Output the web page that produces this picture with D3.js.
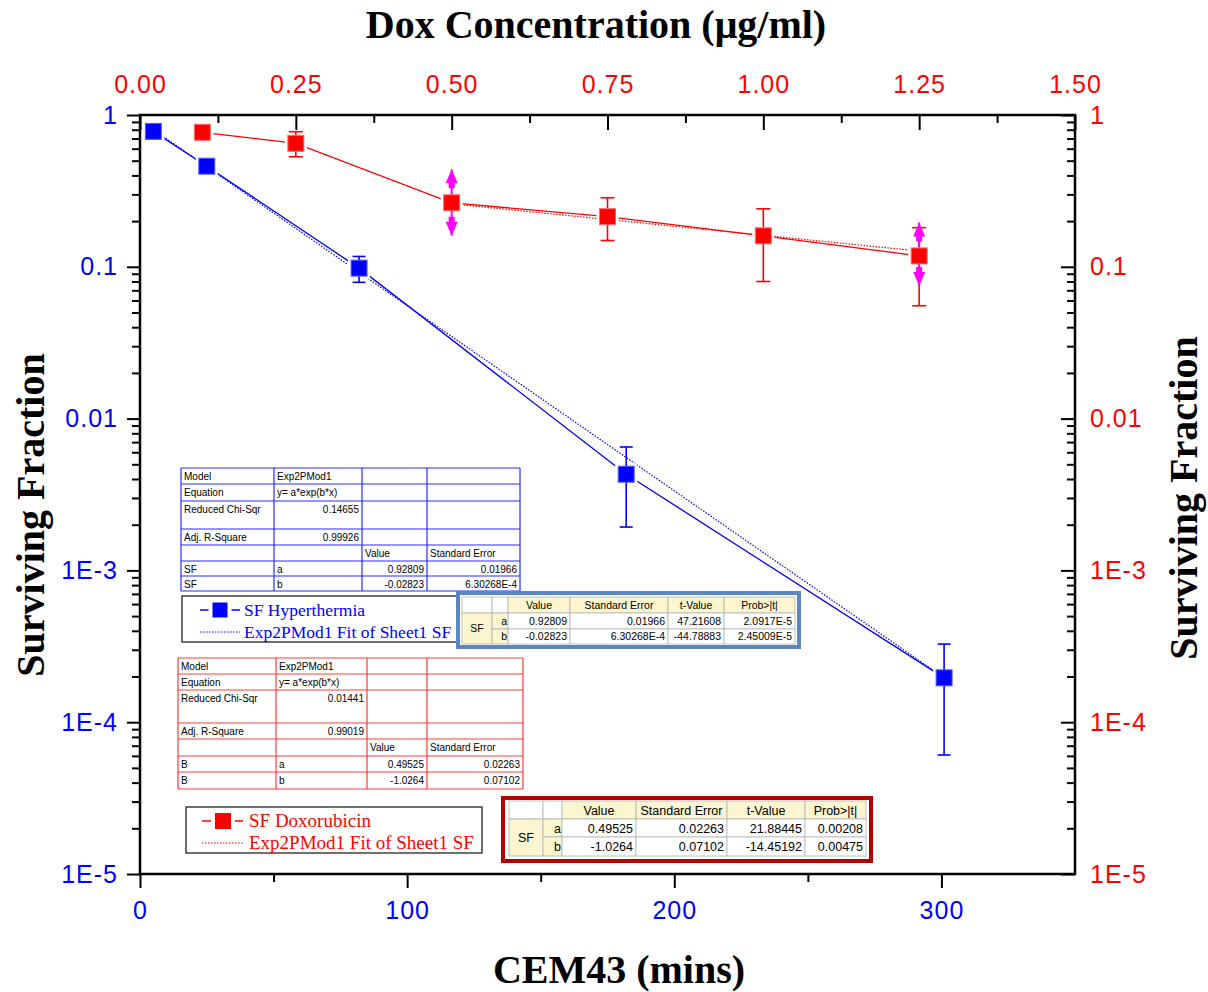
<!DOCTYPE html>
<html>
<head>
<meta charset="utf-8">
<script src="https://cdn.jsdelivr.net/npm/d3@7"></script>
<style>
  body { margin: 0; background: #fff; }
  svg { display: block; }
</style>
</head>
<body>
<svg id="chart" width="1208" height="992"></svg>
<script>
// ---- Hyperthermia series (bottom axis: CEM43 minutes) ----
const hyperMins = [5, 25, 82, 182, 301];
const hyperSF   = [0.78, 0.46, 0.098, 0.0043, 0.000196];
const hyperLo   = [null, null, 0.079, 0.00193, 0.0000608];
const hyperHi   = [null, null, 0.117, 0.0065, 0.000327];
const hyperFitMins = [5, 301];
const hyperFitSF   = [0.80, 0.000196];

// ---- Doxorubicin series (top axis: µg/ml) ----
const doxConc = [0.1, 0.25, 0.5, 0.75, 1.0, 1.25];
const doxSF   = [0.769, 0.651, 0.264, 0.214, 0.160, 0.118];
const doxLo   = [null, 0.531, null, 0.149, 0.080, 0.0554];
const doxHi   = [null, 0.776, null, 0.285, 0.241, 0.181];
const doxFitConc = [0.5, 1.25];
const doxFitSF   = [0.26, 0.127];
// ranges drawn with arrowheads
const doxArrowConc = [0.5, 1.25];
const doxArrowLo   = [0.16, 0.0747];
const doxArrowHi   = [0.439, 0.196];

// ---- Axis ticks ----
const minsTicks  = [0, 100, 200, 300];
const minsMinor  = [50, 150, 250];
const concTicks  = [0, 0.25, 0.5, 0.75, 1.0, 1.25, 1.5];
const concMinor  = [0.125, 0.375, 0.625, 0.875, 1.125, 1.375];
const sfTicks      = [1e-5, 1e-4, 1e-3, 1e-2, 1e-1, 1];
const sfTickLabels = ["1E-5", "1E-4", "1E-3", "0.01", "0.1", "1"];

// ---- Fit report tables ----
const hyperStatsRows = [
  ["Model", "Exp2PMod1", "", ""],
  ["Equation", "y= a*exp(b*x)", "", ""],
  ["Reduced Chi-Sqr", "0.14655", "", ""],
  ["Adj. R-Square", "0.99926", "", ""],
  ["", "", "Value", "Standard Error"],
  ["SF", "a", "0.92809", "0.01966"],
  ["SF", "b", "-0.02823", "6.30268E-4"]
];
const doxStatsRows = [
  ["Model", "Exp2PMod1", "", ""],
  ["Equation", "y= a*exp(b*x)", "", ""],
  ["Reduced Chi-Sqr", "0.01441", "", ""],
  ["Adj. R-Square", "0.99019", "", ""],
  ["", "", "Value", "Standard Error"],
  ["B", "a", "0.49525", "0.02263"],
  ["B", "b", "-1.0264", "0.07102"]
];
const paramHeader = ["Value", "Standard Error", "t-Value", "Prob>|t|"];
const hyperParams = [
  ["a", "0.92809", "0.01966", "47.21608", "2.0917E-5"],
  ["b", "-0.02823", "6.30268E-4", "-44.78883", "2.45009E-5"]
];
const doxParams = [
  ["a", "0.49525", "0.02263", "21.88445", "0.00208"],
  ["b", "-1.0264", "0.07102", "-14.45192", "0.00475"]
];

const BLUE = "#0000ff", RED = "#ff0000", MAGENTA = "#ff00ff";
const SANS = "'Liberation Sans', Arial, sans-serif";
const SERIF = "'Liberation Serif', 'Times New Roman', serif";

const svg = d3.select("#chart");
const frame = { left: 140, right: 1075, top: 115, bottom: 874 };

const xMins = d3.scaleLinear().domain([0, 350]).range([frame.left, frame.right]);
const xConc = d3.scaleLinear().domain([0, 1.5]).range([frame.left, frame.right]);
const ySF = d3.scaleLog().domain([1e-5, 1]).range([frame.bottom, frame.top]);
const sfMinor = ySF.ticks().filter(d => Math.abs(Math.log10(d) - Math.round(Math.log10(d))) > 1e-6);

// ---- Axes ----
function styleAxis(g, color) {
  g.select(".domain").remove();
  g.selectAll(".tick line").attr("stroke", "#000").attr("stroke-width", 2);
  g.selectAll(".tick text")
    .attr("fill", color)
    .style("font-family", SANS)
    .style("font-size", "25px")
    .style("letter-spacing", "1px");
}

svg.append("g").attr("transform", `translate(${frame.left},0)`)
  .call(d3.axisLeft(ySF).tickValues(sfMinor).tickFormat("").tickSize(8))
  .call(g => styleAxis(g, BLUE));
svg.append("g").attr("transform", `translate(${frame.left},0)`)
  .call(d3.axisLeft(ySF).tickValues(sfTicks).tickFormat((d, i) => sfTickLabels[i]).tickSize(13).tickPadding(9))
  .call(g => styleAxis(g, BLUE));

svg.append("g").attr("transform", `translate(${frame.right},0)`)
  .call(d3.axisRight(ySF).tickValues(sfMinor).tickFormat("").tickSize(-8))
  .call(g => styleAxis(g, RED));
svg.append("g").attr("transform", `translate(${frame.right},0)`)
  .call(d3.axisRight(ySF).tickValues(sfTicks).tickFormat((d, i) => sfTickLabels[i]).tickSize(-14).tickPadding(15))
  .call(g => styleAxis(g, RED));

svg.append("g").attr("transform", `translate(0,${frame.bottom})`)
  .call(d3.axisBottom(xMins).tickValues(minsMinor).tickFormat("").tickSize(8))
  .call(g => styleAxis(g, BLUE));
svg.append("g").attr("transform", `translate(0,${frame.bottom})`)
  .call(d3.axisBottom(xMins).tickValues(minsTicks).tickFormat(d3.format("d")).tickSize(14).tickPadding(13))
  .call(g => styleAxis(g, BLUE));

svg.append("g").attr("transform", `translate(0,${frame.top})`)
  .call(d3.axisTop(xConc).tickValues(concMinor).tickFormat("").tickSize(-8))
  .call(g => styleAxis(g, RED));
svg.append("g").attr("transform", `translate(0,${frame.top})`)
  .call(d3.axisTop(xConc).tickValues(concTicks).tickFormat(d3.format(".2f")).tickSize(-15).tickPadding(22))
  .call(g => styleAxis(g, RED));

svg.append("rect")
  .attr("x", frame.left).attr("y", frame.top)
  .attr("width", frame.right - frame.left).attr("height", frame.bottom - frame.top)
  .attr("fill", "none").attr("stroke", "#000").attr("stroke-width", 2.5);

// ---- Axis titles ----
const titleStyle = t => t.attr("font-family", SERIF).attr("font-weight", "bold")
  .attr("font-size", 40).attr("fill", "#000").attr("text-anchor", "middle");
svg.append("text").attr("x", 596).attr("y", 38).text("Dox Concentration (μg/ml)").call(titleStyle);
svg.append("text").attr("x", 619).attr("y", 983).text("CEM43 (mins)").call(titleStyle);
svg.append("text").attr("transform", "translate(44,515) rotate(-90)").text("Surviving Fraction").call(titleStyle);
svg.append("text").attr("transform", "translate(1197,498) rotate(-90)").text("Surviving Fraction").call(titleStyle);

// ---- Series ----
const hyperPts = hyperMins.map((m, i) => ({ x: xMins(m), y: ySF(hyperSF[i]), lo: hyperLo[i], hi: hyperHi[i] }));
const doxPts = doxConc.map((c, i) => ({ x: xConc(c), y: ySF(doxSF[i]), lo: doxLo[i], hi: doxHi[i] }));
const hyperFit = hyperFitMins.map((m, i) => [xMins(m), ySF(hyperFitSF[i])]);
const doxFit = doxFitConc.map((c, i) => [xConc(c), ySF(doxFitSF[i])]);

const line = d3.line();
const plotG = svg.append("g");

// fitted curves (dotted)
plotG.append("path").attr("d", line(hyperFit)).attr("fill", "none")
  .attr("stroke", BLUE).attr("stroke-width", 1.2).attr("stroke-dasharray", "1.5,1.5");
plotG.append("path").attr("d", line(doxFit)).attr("fill", "none")
  .attr("stroke", RED).attr("stroke-width", 1.2).attr("stroke-dasharray", "1.5,1.5");

// connecting lines
plotG.append("path").attr("d", line(hyperPts.map(p => [p.x, p.y]))).attr("fill", "none")
  .attr("stroke", BLUE).attr("stroke-width", 1.3);
plotG.append("path").attr("d", line(doxPts.map(p => [p.x, p.y]))).attr("fill", "none")
  .attr("stroke", RED).attr("stroke-width", 1.3);

// white gap around each symbol
const SYM = 16, GAP = 22;
plotG.selectAll("rect.halo").data(hyperPts.concat(doxPts)).join("rect")
  .attr("class", "halo")
  .attr("x", d => d.x - GAP / 2).attr("y", d => d.y - GAP / 2)
  .attr("width", GAP).attr("height", GAP).attr("fill", "#fff");

// error bars
function errorBars(pts, color, capW) {
  const g = plotG.append("g").attr("stroke", color).attr("stroke-width", 1.6);
  pts.filter(p => p.lo != null).forEach(p => {
    const yl = ySF(p.lo), yh = ySF(p.hi);
    g.append("line").attr("x1", p.x).attr("x2", p.x).attr("y1", yh).attr("y2", yl);
    g.append("line").attr("x1", p.x - capW / 2).attr("x2", p.x + capW / 2).attr("y1", yh).attr("y2", yh);
    g.append("line").attr("x1", p.x - capW / 2).attr("x2", p.x + capW / 2).attr("y1", yl).attr("y2", yl);
  });
}
errorBars(hyperPts, BLUE, 13);
errorBars(doxPts, RED, 14);

// arrowed ranges
const arrowG = plotG.append("g");
doxArrowConc.forEach((c, i) => {
  const x = xConc(c), yTop = ySF(doxArrowHi[i]), yBot = ySF(doxArrowLo[i]);
  arrowG.append("line").attr("x1", x).attr("x2", x).attr("y1", yTop).attr("y2", yBot)
    .attr("stroke", MAGENTA).attr("stroke-width", 2);
  // upward head
  arrowG.append("path").attr("fill", MAGENTA)
    .attr("d", `M${x},${yTop} L${x + 6},${yTop + 14} L${x + 3},${yTop + 14} L${x + 3},${yTop + 19} L${x - 3},${yTop + 19} L${x - 3},${yTop + 14} L${x - 6},${yTop + 14} Z`);
  // downward head
  arrowG.append("path").attr("fill", MAGENTA)
    .attr("d", `M${x},${yBot} L${x + 6},${yBot - 14} L${x + 3},${yBot - 14} L${x + 3},${yBot - 19} L${x - 3},${yBot - 19} L${x - 3},${yBot - 14} L${x - 6},${yBot - 14} Z`);
});

// symbols
function symbols(pts, fill, edge) {
  plotG.append("g").selectAll("rect").data(pts).join("rect")
    .attr("x", d => d.x - SYM / 2).attr("y", d => d.y - SYM / 2)
    .attr("width", SYM).attr("height", SYM)
    .attr("fill", fill).attr("stroke", edge).attr("stroke-width", 1);
}
symbols(hyperPts, BLUE, "#5a5aff");
symbols(doxPts, RED, "#ff6a6a");

// ---- Fit statistics tables ----
const isNum = s => s !== "" && !isNaN(+s);

function statsTable(rows, cols, rowsY, lineColor) {
  const g = svg.append("g");
  g.append("rect").attr("x", cols[0]).attr("y", rowsY[0])
    .attr("width", cols[cols.length - 1] - cols[0]).attr("height", rowsY[rowsY.length - 1] - rowsY[0])
    .attr("fill", "#fff");
  rows.forEach((r, ri) => {
    r.forEach((s, ci) => {
      if (!s) return;
      const right = isNum(s);
      g.append("text")
        .attr("x", right ? cols[ci + 1] - 3 : cols[ci] + 3)
        .attr("y", rowsY[ri] + 11.5)
        .attr("text-anchor", right ? "end" : "start")
        .attr("font-family", SANS).attr("font-size", 10).attr("fill", "#000")
        .text(s);
    });
  });
  cols.forEach(x => g.append("line").attr("x1", x).attr("x2", x)
    .attr("y1", rowsY[0]).attr("y2", rowsY[rowsY.length - 1])
    .attr("stroke", lineColor).attr("stroke-width", 1.2));
  rowsY.forEach(y => g.append("line").attr("x1", cols[0]).attr("x2", cols[cols.length - 1])
    .attr("y1", y).attr("y2", y).attr("stroke", lineColor).attr("stroke-width", 1.2));
}
statsTable(hyperStatsRows, [181, 274, 362, 427, 520], [468, 484, 501, 529, 545, 561, 576, 591], "#2a2aff");
statsTable(doxStatsRows, [178, 276, 367, 427, 523], [658, 674, 690, 723, 739, 756, 772, 789], "#ff3a3a");

// ---- Legends ----
function legend(box, rowY, x1, x2, sx, textX, color, fontSize, labels, sym) {
  const g = svg.append("g");
  g.append("rect").attr("x", box[0]).attr("y", box[1]).attr("width", box[2] - box[0]).attr("height", box[3] - box[1])
    .attr("fill", "#fff").attr("stroke", "#222").attr("stroke-width", 1.3);
  g.append("line").attr("x1", x1).attr("x2", x2).attr("y1", rowY[0]).attr("y2", rowY[0])
    .attr("stroke", color).attr("stroke-width", 1.5);
  g.append("rect").attr("x", sx - sym / 2 - 4).attr("y", rowY[0] - sym / 2 - 2).attr("width", sym + 8).attr("height", sym + 4).attr("fill", "#fff");
  g.append("rect").attr("x", sx - sym / 2).attr("y", rowY[0] - sym / 2).attr("width", sym).attr("height", sym).attr("fill", color);
  g.append("line").attr("x1", x1).attr("x2", x2).attr("y1", rowY[1]).attr("y2", rowY[1])
    .attr("stroke", color).attr("stroke-width", 1).attr("stroke-dasharray", "1.5,1.5");
  labels.forEach((t, i) => g.append("text").attr("x", textX).attr("y", rowY[i] + fontSize * 0.33)
    .attr("font-family", SERIF).attr("font-size", fontSize).attr("fill", color).text(t));
}
legend([182, 596, 457, 642], [610, 632], 200, 240, 220, 244, BLUE, 17.5,
  ["SF Hyperthermia", "Exp2PMod1 Fit of Sheet1 SF"], 15);
legend([186, 807, 482, 853], [821, 843], 202, 243, 223, 249, RED, 19,
  ["SF Doxorubicin", "Exp2PMod1 Fit of Sheet1 SF"], 16);

// ---- Parameter tables ----
function paramTable(outer, cols, rowsY, frameColor, frameWidth, fontSize, params) {
  const g = svg.append("g");
  const CREAM = "#fbf6cf", GRID = "#b4b4b4";
  g.append("rect").attr("x", outer[0]).attr("y", outer[1]).attr("width", outer[2] - outer[0]).attr("height", outer[3] - outer[1])
    .attr("fill", "#fff").attr("stroke", frameColor).attr("stroke-width", frameWidth);
  const cell = (c0, c1, r0, r1, fill) => g.append("rect")
    .attr("x", cols[c0]).attr("y", rowsY[r0]).attr("width", cols[c1] - cols[c0]).attr("height", rowsY[r1] - rowsY[r0])
    .attr("fill", fill).attr("stroke", GRID).attr("stroke-width", 0.8);
  cell(0, 1, 0, 1, "#fff"); cell(1, 2, 0, 1, "#fff");
  for (let c = 2; c < cols.length - 1; c++) cell(c, c + 1, 0, 1, CREAM);
  cell(0, 1, 1, 3, CREAM);
  for (let r = 1; r < 3; r++) {
    cell(1, 2, r, r + 1, CREAM);
    for (let c = 2; c < cols.length - 1; c++) cell(c, c + 1, r, r + 1, "#fff");
  }
  const txt = (x, y, anchor, s) => g.append("text").attr("x", x).attr("y", y).attr("text-anchor", anchor)
    .attr("font-family", SANS).attr("font-size", fontSize).attr("fill", "#000").text(s);
  const base = r => (rowsY[r] + rowsY[r + 1]) / 2 + fontSize * 0.36;
  paramHeader.forEach((h, i) => txt((cols[i + 2] + cols[i + 3]) / 2, base(0), "middle", h));
  txt((cols[0] + cols[1]) / 2, (rowsY[1] + rowsY[3]) / 2 + fontSize * 0.36, "middle", "SF");
  params.forEach((row, r) => {
    txt(cols[2] - 1, base(r + 1), "end", row[0]);
    row.slice(1).forEach((s, i) => txt(cols[i + 3] - 3, base(r + 1), "end", s));
  });
}
paramTable([458, 593, 799, 647], [462, 492, 508, 570, 668, 724, 795], [597, 613, 629, 644],
  "#5b86c0", 4, 10.5, hyperParams);
paramTable([503, 798, 871, 861], [509, 543, 562, 636, 727, 805, 866], [801, 819, 837, 856],
  "#b40000", 4, 12.5, doxParams);
</script>
</body>
</html>
